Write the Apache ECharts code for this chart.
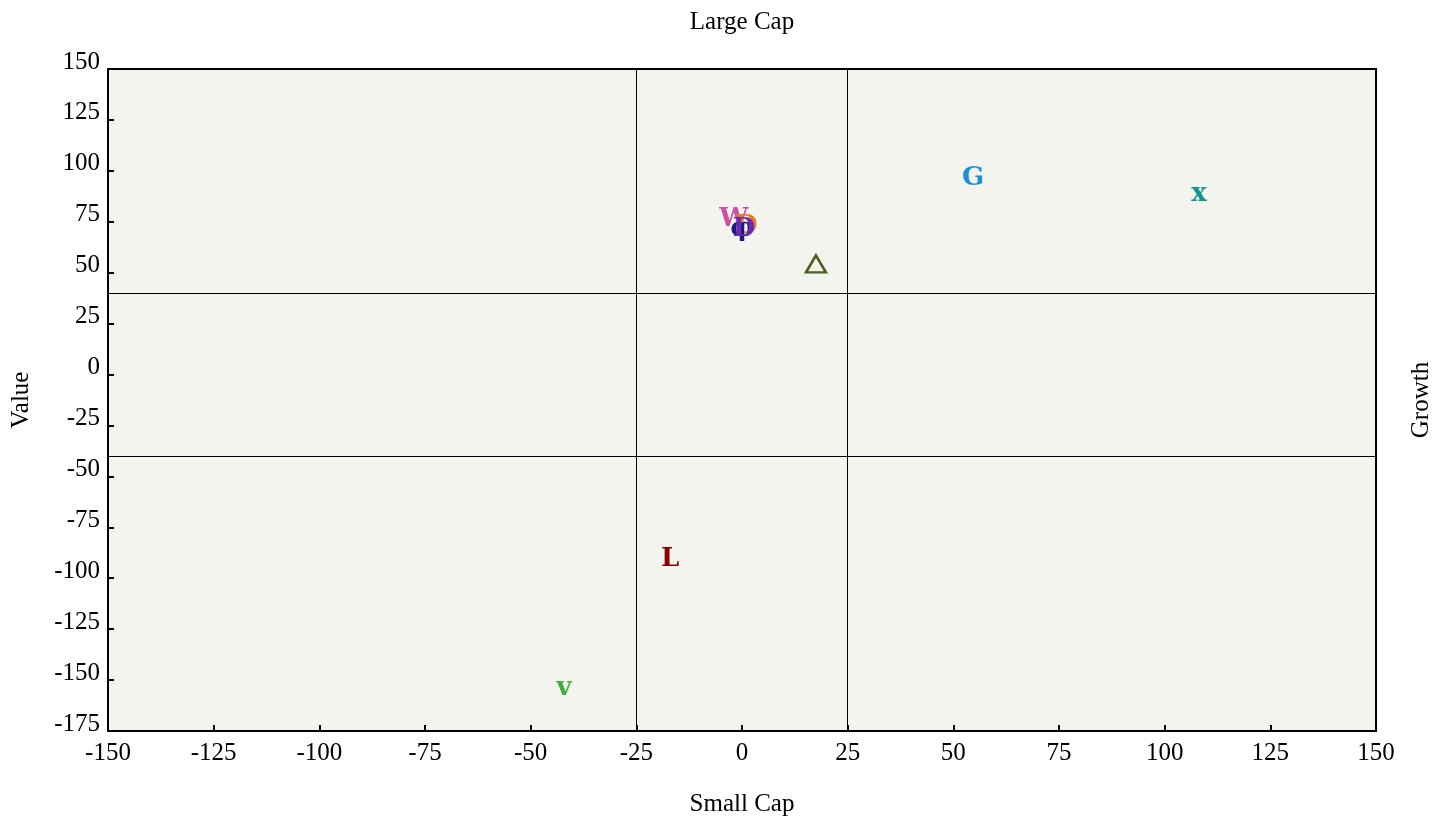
<!DOCTYPE html>
<html>
<head>
<meta charset="utf-8">
<script src="https://cdn.jsdelivr.net/npm/echarts@6/dist/echarts.min.js"></script>
<style>html,body{margin:0;padding:0;background:#fff}#c{width:1445px;height:819px}</style>
</head>
<body>
<div id="c"></div>
<script>
// data
const letters = ['W', 'D', 'φ', 'D', 'G', 'x', 'L', 'v'];
const xs = [-1.9, 1.0, 0.0, 0.5, 54.7, 108.1, -17.0, -42.1];
const ys = [77.8, 74.5, 73.0, 72.9, 98.0, 90.1, -89.1, -152.4];
const letterColors = ['#cc4fa0', '#f07a20', '#1a1a80', '#6a2bb0', '#1a8fd8', '#109494', '#8b0000', '#3cb040'];
const triangle = [17.5, 54.3];
const triangleColor = '#4b6020';
const xDividers = [-25, 25];
const yDividers = [40, -40];
const xRange = [-150, 150];
const yRange = [-175, 150];
const tickStep = 25;

const serif = '"Liberation Serif", "DejaVu Serif", serif';
const chart = echarts.init(document.getElementById('c'));

const letterData = letters.map((t, i) => ({
  value: [xs[i], ys[i]],
  label: { formatter: t, color: letterColors[i] }
}));

chart.setOption({
  animation: false,
  grid: { left: 108, right: 69, top: 69, bottom: 88, outerBoundsMode: 'none', containLabel: false, show: true, backgroundColor: '#f4f4ef', borderColor: '#000', borderWidth: 2 },
  xAxis: [{
    type: 'value', min: xRange[0], max: xRange[1], interval: tickStep,
    name: 'Small Cap', nameLocation: 'middle', nameGap: 61,
    nameTextStyle: { fontFamily: serif, fontSize: 25, color: '#000' },
    axisLine: { onZero: false, lineStyle: { color: '#000', width: 2 } },
    axisTick: { inside: true, length: 6, lineStyle: { color: '#000', width: 2 } },
    axisLabel: { fontFamily: serif, fontSize: 25, color: '#000', margin: 10 },
    splitLine: { show: false }
  }, {
    type: 'value', position: 'top', min: xRange[0], max: xRange[1], interval: tickStep,
    name: 'Large Cap', nameLocation: 'middle', nameGap: 34,
    nameTextStyle: { fontFamily: serif, fontSize: 25, color: '#000' },
    axisLine: { show: false }, axisTick: { show: false }, axisLabel: { show: false }, splitLine: { show: false }
  }],
  yAxis: [{
    type: 'value', min: yRange[0], max: yRange[1], interval: tickStep,
    name: 'Value', nameLocation: 'middle', nameGap: 74, nameRotate: 90,
    nameTextStyle: { fontFamily: serif, fontSize: 25, color: '#000' },
    axisLine: { onZero: false, lineStyle: { color: '#000', width: 2 } },
    axisTick: { inside: true, length: 6, lineStyle: { color: '#000', width: 2 } },
    axisLabel: { fontFamily: serif, fontSize: 25, color: '#000', margin: 8, verticalAlign: 'bottom', lineHeight: 14 },
    splitLine: { show: false }
  }, {
    type: 'value', position: 'right', min: yRange[0], max: yRange[1], interval: tickStep,
    name: 'Growth', nameLocation: 'middle', nameGap: 33, nameRotate: 90,
    nameTextStyle: { fontFamily: serif, fontSize: 25, color: '#000' },
    axisLine: { show: false }, axisTick: { show: false }, axisLabel: { show: false }, splitLine: { show: false }
  }],
  series: [{
    type: 'scatter',
    symbolSize: 1,
    itemStyle: { color: 'rgba(0,0,0,0)', opacity: 1 },
    label: { show: true, position: 'inside', offset: [0, 3], opacity: 1, fontFamily: '"DejaVu Serif", serif', fontWeight: 'bold', fontSize: 26 },
    data: letterData,
    markLine: {
      silent: true, symbol: 'none', label: { show: false },
      lineStyle: { color: '#000', width: 1, type: 'solid', opacity: 1 },
      data: xDividers.map(v => ({ xAxis: v })).concat(yDividers.map(v => ({ yAxis: v })))
    },
    z: 3
  }, {
    type: 'scatter',
    symbol: 'triangle',
    symbolSize: [20, 17],
    itemStyle: { color: 'rgba(0,0,0,0)', borderColor: triangleColor, borderWidth: 2.5, opacity: 1 },
    data: [triangle],
    z: 3
  }]
});
</script>
</body>
</html>
